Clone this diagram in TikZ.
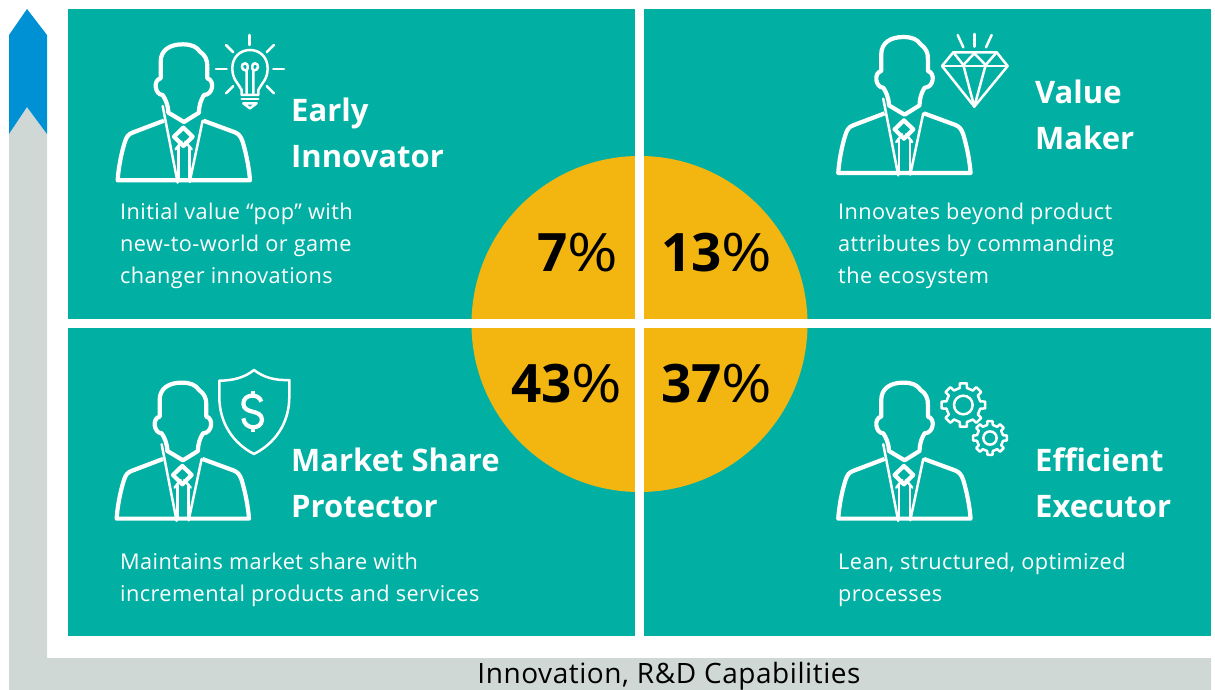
\documentclass[tikz,border=0pt]{standalone}
\usepackage{fontspec}
\setmainfont{Open Sans}[LetterSpace=2]
\newfontfamily\headfont{Open Sans}
\definecolor{panelteal}{HTML}{02B0A3}
\definecolor{discgold}{HTML}{F3B611}
\definecolor{axisgrey}{HTML}{D0D8D6}
\definecolor{axisblue}{HTML}{0091D5}
\tikzset{
    panel/.style={fill=panelteal,draw=none},
    iconline/.style={draw=white,line width=4.2pt,line join=round,fill=none},
    thinline/.style={draw=white,line width=2.5pt,line join=round,line cap=round,fill=none},
    heading/.style={text=white,anchor=north west,align=left,inner sep=0pt,font=\headfont\fontsize{31}{45.5}\selectfont\bfseries},
    blurb/.style={text=white,anchor=north west,align=left,inner sep=0pt,font=\fontsize{21.7}{32}\selectfont},
    share/.style={text=black,anchor=base west,inner sep=0pt,font=\headfont\fontsize{53}{53}\selectfont},
    person/.pic={
        \begin{scope}[x=0.3333pt,y=-0.3333pt]
            \draw[iconline] (505,338) .. controls (505,315) and (495,295) .. (488,285)
                .. controls (465,285) and (458,240) .. (482,235) -- (482,185)
                .. controls (482,150) and (510,133) .. (548,133)
                .. controls (575,133) and (590,140) .. (600,155)
                .. controls (615,165) and (623,180) .. (622,200) -- (622,235)
                .. controls (645,240) and (640,285) .. (612,285)
                .. controls (603,300) and (597,315) .. (597,338) -- (552,366) -- cycle;
            \draw[iconline] (492,362) -- (400,397) .. controls (385,402) and (380,410) .. (375,425)
                .. controls (362,465) and (355,510) .. (353,541) -- (750,541)
                .. controls (748,510) and (740,465) .. (728,425)
                .. controls (722,408) and (716,402) .. (705,397) -- (610,362);
            \draw[thinline] (488,318) -- (533,548);
            \draw[thinline] (608,362) -- (569,546);
            \draw[iconline] (550,383) -- (578,410) -- (550,438) -- (522,410) -- cycle;
            \draw[thinline] (527,448) -- (545,425);
            \draw[thinline] (575,448) -- (556,425);
            \draw[thinline] (535,440) -- (535,541);
            \draw[thinline] (568,440) -- (568,541);
        \end{scope}
    }
}
\newcommand{\gearicon}[5]{
    \draw[thinline] (#1,#2) circle[radius=#3];
    \begin{scope}[shift={(#1,#2)}]
        \foreach \a in {0,45,...,315}{
            \draw[thinline] (\a-12:#4) -- (\a-9:#5) -- (\a+9:#5) -- (\a+12:#4) -- (\a+33:#4);
        }
    \end{scope}
}
\newcommand{\pct}{\scalebox{1.16}[1]{\%}}
\begin{document}
\begin{tikzpicture}[x=1pt,y=-1pt]
    \useasboundingbox (0,0) rectangle (1215,690);
    \fill[white] (0,0) rectangle (1215,690);

    \fill[axisgrey] (9,690) -- (9,134) -- (27,107) -- (47,134) -- (47,658) -- (1211,658) -- (1211,690) -- cycle;
    \fill[axisblue] (9,134) -- (9,35) -- (27,9) -- (47,35) -- (47,134) -- (27,107) -- cycle;

    \fill[panel] (68,9) rectangle (635,319);
    \fill[panel] (644,9) rectangle (1211,319);
    \fill[panel] (68,328) rectangle (635,636);
    \fill[panel] (644,328) rectangle (1211,636);

    \fill[discgold] (639.5,324) circle[radius=168];
    \fill[white] (635,150) rectangle (644,500);
    \fill[white] (465,319) rectangle (815,328);

    \pic at (0,0) {person};
    \pic at (720.6,-7.3) {person};
    \pic at (-1,338.3) {person};
    \pic at (720.6,338.3) {person};

    \begin{scope}[x=0.3333pt,y=-0.3333pt]
        \draw[thinline] (748,105) -- (748,135);
        \draw[thinline] (678,135) -- (700,157);
        \draw[thinline] (822,135) -- (800,157);
        \draw[thinline] (648,207) -- (680,207);
        \draw[thinline] (820,207) -- (852,207);
        \draw[thinline] (678,280) -- (700,258);
        \draw[thinline] (822,280) -- (800,258);
        \draw[thinline] (725,285) -- (725,270) .. controls (715,250) and (697,238) .. (697,205)
            .. controls (697,170) and (722,150) .. (750,150)
            .. controls (778,150) and (803,170) .. (803,205)
            .. controls (803,238) and (785,250) .. (775,270) -- (775,285) -- cycle;
        \draw[thinline] (740,280) -- (740,212) .. controls (722,212) and (722,190) .. (735,190)
            .. controls (745,190) and (745,205) .. (740,212);
        \draw[thinline] (760,280) -- (760,212) .. controls (778,212) and (778,190) .. (765,190)
            .. controls (755,190) and (755,205) .. (760,212);
        \draw[thinline] (725,297) -- (775,297);
        \draw[thinline] (730,310) -- (770,310) -- (750,325) -- cycle;
    \end{scope}

    \begin{scope}[shift={(820,20)},x=0.3333pt,y=-0.3333pt]
        \draw[thinline] (413,45) -- (430,82);
        \draw[thinline] (463,42) -- (463,80);
        \draw[thinline] (515,45) -- (498,82);
        \draw[thinline] (400,97) -- (530,97) -- (563,138) -- (463,260) -- (366,138) -- cycle;
        \draw[thinline] (366,138) -- (563,138);
        \draw[thinline] (400,97) -- (430,135) -- (463,100) -- (497,135) -- (530,97);
        \draw[thinline] (430,135) -- (463,260) -- (497,135);
    \end{scope}

    \begin{scope}[shift={(100,360)},x=0.3333pt,y=-0.3333pt]
        \draw[thinline] (462,30) .. controls (435,52) and (400,62) .. (358,62) -- (358,110)
            .. controls (358,190) and (400,250) .. (462,282)
            .. controls (525,250) and (568,190) .. (568,110) -- (568,60)
            .. controls (525,62) and (490,52) .. (462,30) -- cycle;
        \draw[iconline] (484,125) .. controls (478,100) and (432,100) .. (430,130)
            .. controls (430,165) and (486,145) .. (486,180)
            .. controls (484,210) and (434,210) .. (430,175);
        \draw[iconline] (458,92) -- (458,105);
        \draw[iconline] (458,205) -- (458,215);
    \end{scope}

    \begin{scope}[shift={(820,370)},x=0.3333pt,y=-0.3333pt]
        \gearicon{430}{105}{28}{52}{66}
        \gearicon{510}{204}{20}{40}{51}
    \end{scope}

    \node[heading] (earlyname) at (291,98) {Early\\Innovator};
    \node[heading] (valuename) at (1035,80) {Value\\Maker};
    \node[heading] (protectorname) at (291,448) {Market Share\\Protector};
    \node[heading] (executorname) at (1035,448) {Efficient\\Executor};

    \node[blurb] (earlytext) at (120,203) {Initial value “pop” with\\new-to-world or game\\changer innovations};
    \node[blurb] (valuetext) at (838,203) {Innovates beyond product\\attributes by commanding\\the ecosystem};
    \node[blurb] (protectortext) at (120,553) {Maintains market share with\\incremental products and services};
    \node[blurb] (executortext) at (838,553) {Lean, structured, optimized\\processes};

    \node[share] (earlyshare) at (537,271) {\textbf{7}\pct};
    \node[share] (valueshare) at (661,271) {\textbf{13}\pct};
    \node[share] (protectorshare) at (511,402) {\textbf{43}\pct};
    \node[share] (executorshare) at (661,402) {\textbf{37}\pct};

    \node[anchor=base,inner sep=0pt,font=\fontsize{28}{28}\selectfont] (axisname) at (669,683) {Innovation, R\&D Capabilities};
\end{tikzpicture}
\end{document}
